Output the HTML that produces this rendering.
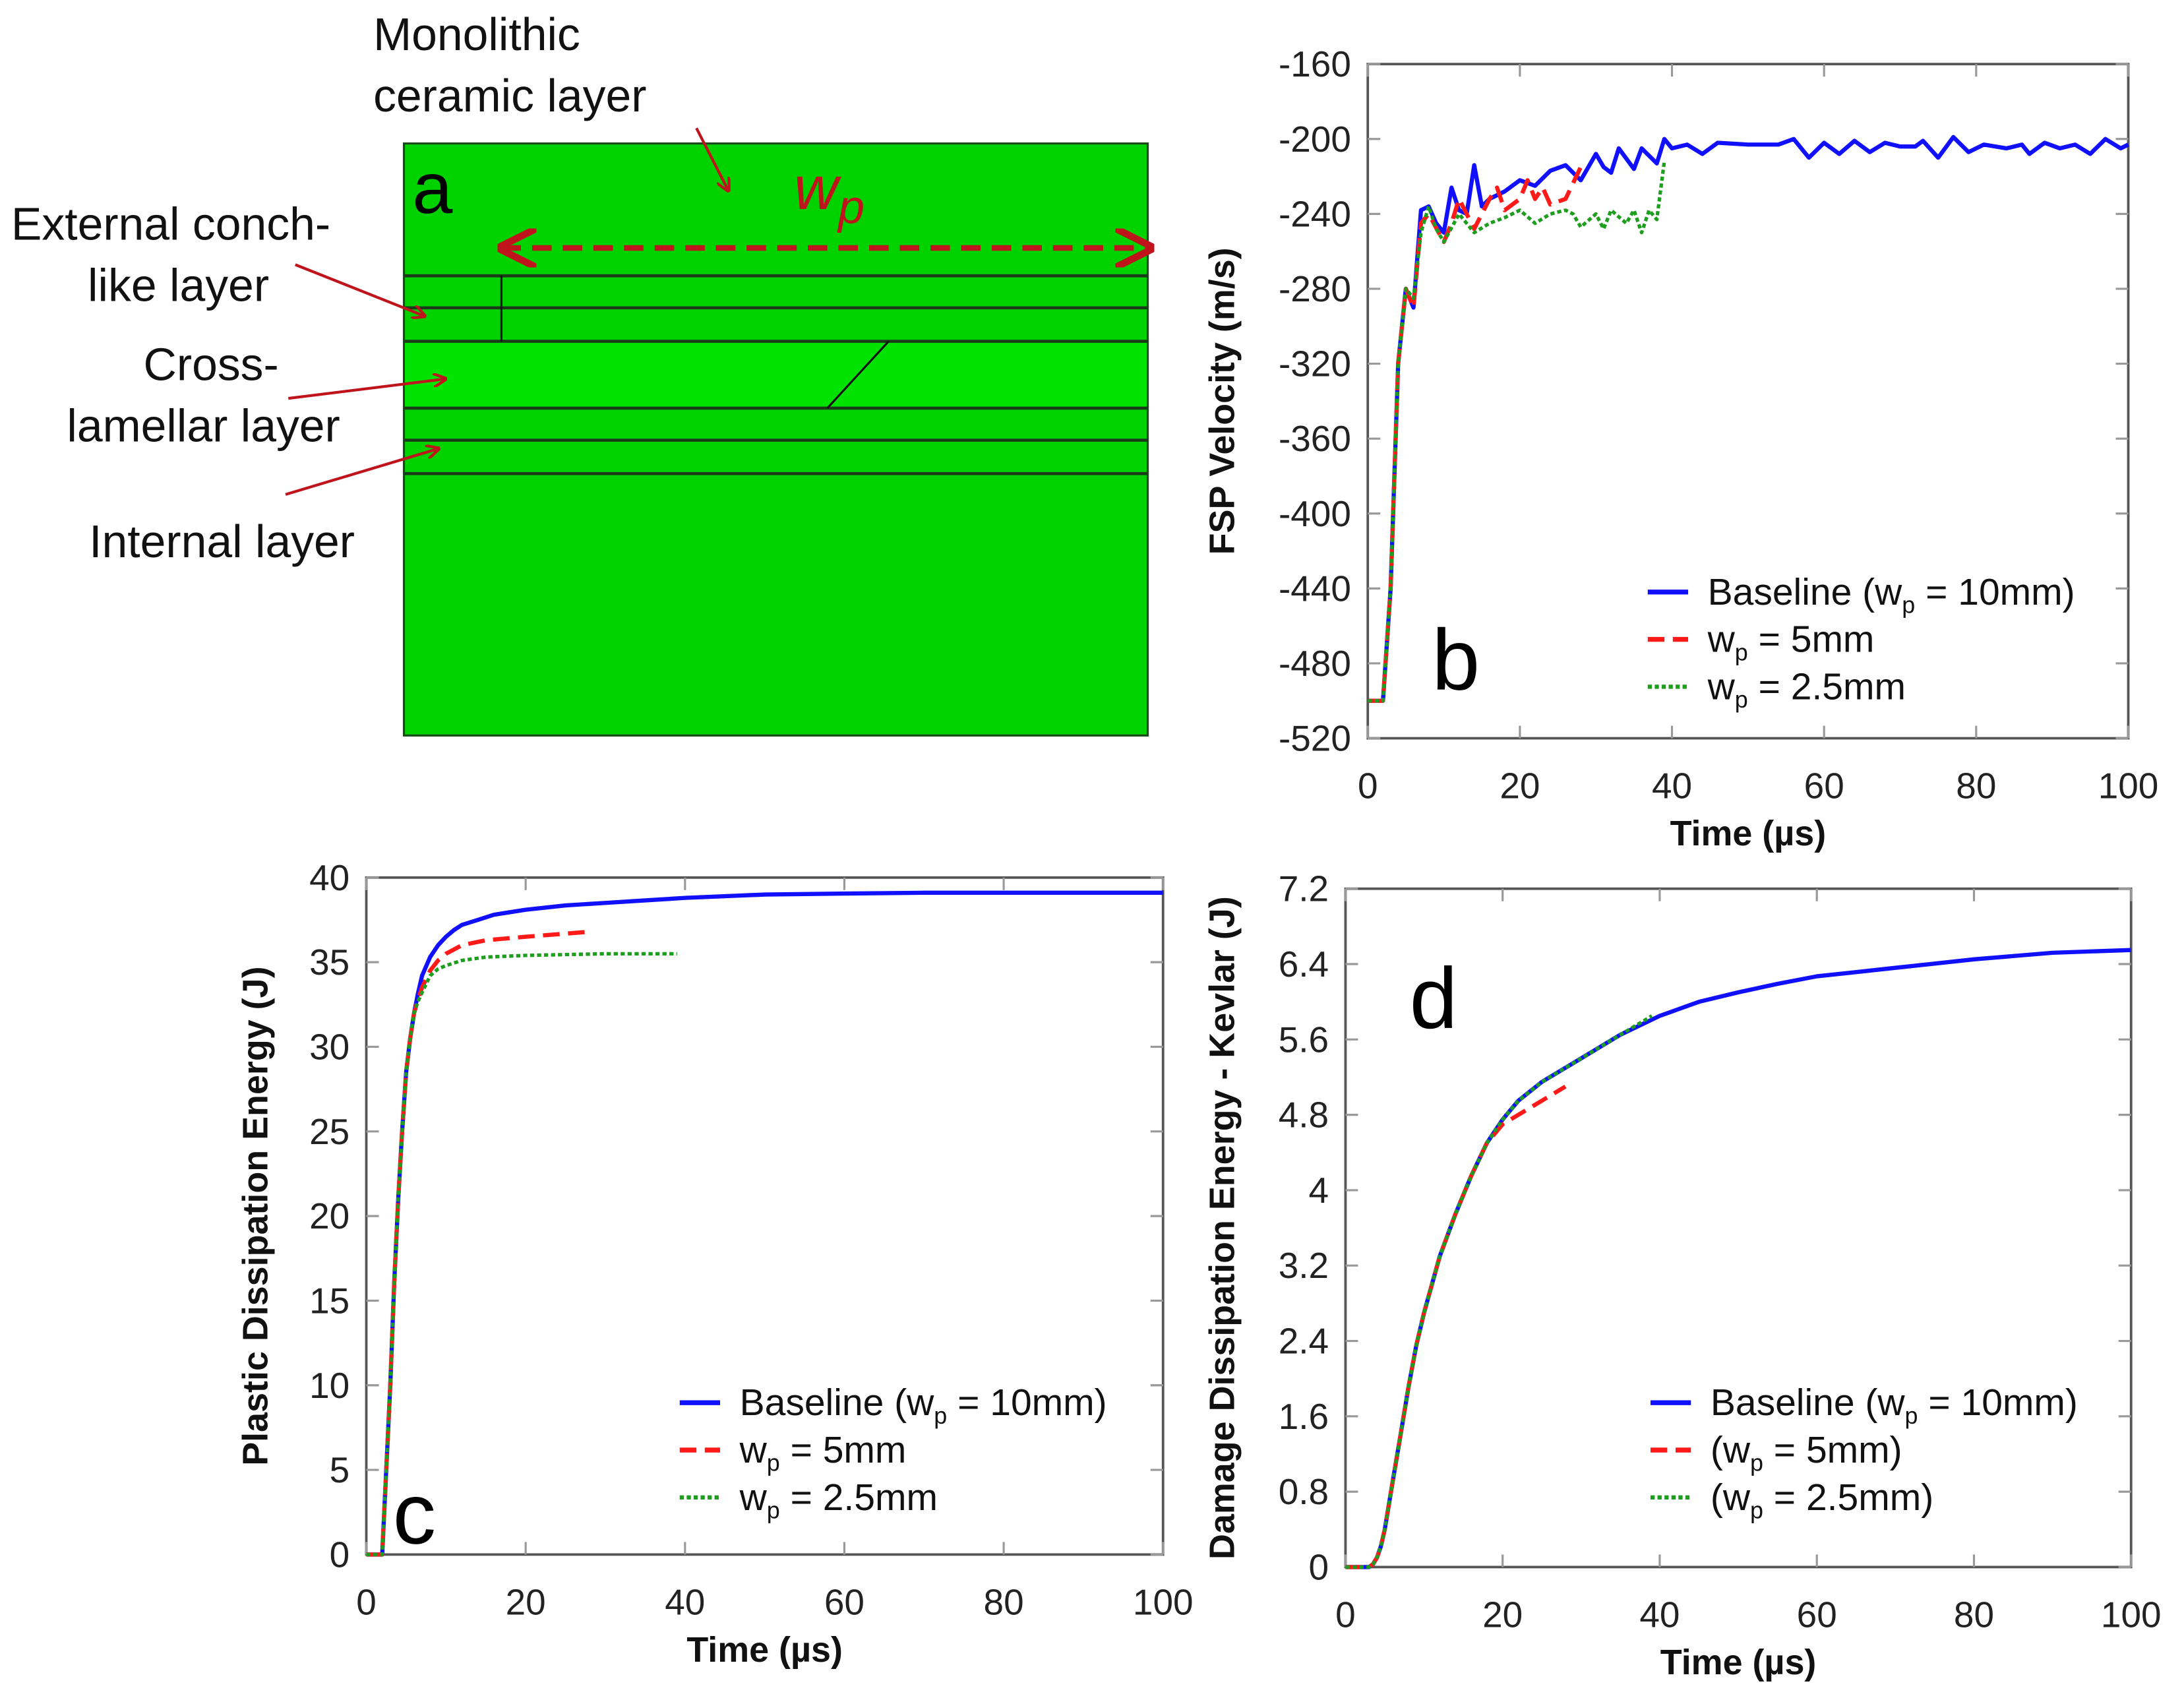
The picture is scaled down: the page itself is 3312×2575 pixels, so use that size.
<!DOCTYPE html>
<html><head><meta charset="utf-8"><style>
html,body{margin:0;padding:0;background:#fff}
svg{display:block}
text{font-family:"Liberation Sans",Arial,sans-serif}
.n{font-family:"Liberation Sans Narrow","Liberation Sans",sans-serif}
.tk{font-size:26px;fill:#222}
.tt{font-size:25.5px;font-weight:bold;fill:#111}
.lg{font-size:27px;fill:#111}
</style></head><body>
<svg id="fig" width="3312" height="2575" viewBox="0 0 1568 1219" preserveAspectRatio="none" xmlns="http://www.w3.org/2000/svg">
<defs>
<marker id="ah" viewBox="0 0 10 10" refX="9" refY="5" markerWidth="7" markerHeight="7" orient="auto-start-reverse"><path d="M0,0 L10,5 L0,10" fill="none" stroke="#c0141c" stroke-width="1.8"/></marker>
<marker id="ah2" viewBox="0 0 10 10" refX="9" refY="5" markerWidth="5" markerHeight="5" orient="auto-start-reverse"><path d="M0,0 L10,5 L0,10" fill="none" stroke="#c0141c" stroke-width="2"/></marker>
</defs>
<g>
<rect x="290" y="103" width="534" height="425" fill="#00d200" stroke="#1a4a1a" stroke-width="1.5"/>
<rect x="290.7" y="246" width="532.6" height="46" fill="#00e200"/>
<g stroke="#1a3a1a" stroke-width="2.2">
<line x1="290" y1="198" x2="824" y2="198"/><line x1="290" y1="221" x2="824" y2="221"/><line x1="290" y1="245" x2="824" y2="245"/>
<line x1="290" y1="293" x2="824" y2="293"/><line x1="290" y1="316" x2="824" y2="316"/><line x1="290" y1="340" x2="824" y2="340"/>
</g>
<line x1="360" y1="198" x2="360" y2="245" stroke="#111" stroke-width="1.5"/>
<line x1="638" y1="245" x2="594" y2="293" stroke="#111" stroke-width="1.5"/>
<text class="n" x="268" y="36" font-size="33" fill="#111">Monolithic</text>
<text class="n" x="268" y="80" font-size="33" fill="#111">ceramic layer</text>
<text class="n" x="8" y="172" font-size="33" fill="#111">External  conch-</text>
<text class="n" x="63" y="216" font-size="33" fill="#111">like layer</text>
<text class="n" x="103" y="273" font-size="33" fill="#111">Cross-</text>
<text class="n" x="48" y="317" font-size="33" fill="#111">lamellar  layer</text>
<text class="n" x="64" y="400" font-size="33" fill="#111">Internal  layer</text>
<text x="296" y="153" font-size="52" fill="#000">a</text>
<text x="570" y="150" font-size="44" font-style="italic" font-family="Liberation Serif,serif" fill="#c0141c">w<tspan font-size="34" dy="10">p</tspan></text>
<line x1="360" y1="178" x2="826" y2="178" stroke="#c0141c" stroke-width="4" stroke-dasharray="14,8" marker-start="url(#ah)" marker-end="url(#ah)"/>
<g stroke="#c0141c" stroke-width="2" fill="none">
<line x1="500" y1="92" x2="523" y2="137" marker-end="url(#ah2)"/>
<line x1="212" y1="190" x2="305" y2="227" marker-end="url(#ah2)"/>
<line x1="207" y1="286" x2="320" y2="272" marker-end="url(#ah2)"/>
<line x1="205" y1="355" x2="315" y2="322" marker-end="url(#ah2)"/>
</g>
</g>
<g id="pb"></g>
<g id="pc"></g>
<g id="pd"></g>
</svg>
<script>
// Panel b data
const bTicksY = [-160,-200,-240,-280,-320,-360,-400,-440,-480,-520];
const xTicks = [0,20,40,60,80,100];
const bBaseT = [0,2,3,4,5,6,7,8,9,10,11,12,13,14,15,16,18,20,22,24,26,27,28,30,31,32,33,35,36,38,39,40,42,44,46,50,54,56,58,60,62,64,66,68,70,72,73,75,77,79,81,84,86,87,89,91,93,95,97,99,100];
const bBaseV = [-500,-500,-440,-320,-280,-290,-238,-236,-245,-250,-226,-238,-240,-214,-236,-232,-228,-222,-225,-217,-214,-218,-222,-208,-215,-218,-205,-216,-205,-213,-200,-205,-203,-208,-202,-203,-203,-200,-210,-202,-208,-201,-207,-202,-204,-204,-201,-210,-199,-207,-203,-205,-203,-208,-202,-205,-203,-208,-200,-205,-203];
const b5T = [0,2,3,4,5,6,7,8,10,11,12,14,16,17,18,20,21,22,23,24,26,28];
const b5V = [-500,-500,-440,-320,-280,-290,-245,-240,-255,-245,-232,-248,-232,-226,-238,-232,-222,-232,-226,-235,-232,-215];
const b25T = [0,2,3,4,5,6,7,8,9,10,12,14,16,18,20,22,24,26,27,28,30,31,32,34,35,36,37,38,39];
const b25V = [-500,-500,-440,-320,-280,-285,-250,-236,-248,-255,-240,-250,-245,-242,-238,-245,-240,-238,-240,-247,-240,-248,-238,-245,-238,-250,-238,-243,-212];
// Panel c data
const cTicksY = [0,5,10,15,20,25,30,35,40];
const cBaseT = [0,2,2.5,3,3.5,4,4.5,5,5.5,6,6.5,7,8,9,10,11,12,14,16,20,25,30,35,40,50,60,70,100];
const cBaseV = [0,0,5,10,16,21,25,28.5,30.5,32,33.2,34.2,35.3,36,36.5,36.9,37.2,37.5,37.8,38.1,38.35,38.5,38.65,38.8,39,39.05,39.1,39.1];
const c5T = [0,2,2.5,3,3.5,4,4.5,5,5.5,6,6.5,7,8,9,10,12,15,20,28];
const c5V = [0,0,5,10,16,21,25,28.5,30.5,32,32.8,33.5,34.5,35.1,35.5,36,36.3,36.5,36.8];
const c25T = [0,2,2.5,3,3.5,4,4.5,5,5.5,6,6.5,7,8,9,10,12,15,20,30,39];
const c25V = [0,0,5,10,16,21,25,28.5,30.5,32,32.7,33.2,34.2,34.6,34.8,35.1,35.3,35.4,35.5,35.5];
// Panel d data
const dTicksY = [0,0.8,1.6,2.4,3.2,4,4.8,5.6,6.4,7.2];
const dTickLabels = ["0","0.8","1.6","2.4","3.2","4","4.8","5.6","6.4","7.2"];
const dBaseT = [0,3,3.5,4,4.5,5,6,7,8,9,10,12,14,16,18,20,22,25,30,35,40,45,50,55,60,70,80,90,100];
const dBaseV = [0,0,0.03,0.1,0.22,0.4,0.9,1.4,1.9,2.35,2.7,3.3,3.75,4.15,4.5,4.75,4.95,5.15,5.4,5.65,5.85,6,6.1,6.19,6.27,6.36,6.45,6.52,6.55];
const d5T = [0,3,3.5,4,4.5,5,6,7,8,9,10,12,14,16,18,20,25,28];
const d5V = [0,0,0.03,0.1,0.22,0.4,0.9,1.4,1.9,2.35,2.7,3.3,3.75,4.15,4.5,4.7,4.95,5.1];
const d25T = [0,3,3.5,4,4.5,5,6,7,8,9,10,12,14,16,18,20,22,25,30,35,39];
const d25V = [0,0,0.03,0.1,0.22,0.4,0.9,1.4,1.9,2.35,2.7,3.3,3.75,4.15,4.5,4.75,4.95,5.15,5.4,5.65,5.85];

const NS="http://www.w3.org/2000/svg";
function mk(parent,tag,attrs,txt){const e=document.createElementNS(NS,tag);for(const k in attrs)e.setAttribute(k,attrs[k]);if(txt!==undefined)e.textContent=txt;parent.appendChild(e);return e;}

function chart(g,o){
  const sx=v=>o.L+(v-o.x0)/(o.x1-o.x0)*(o.R-o.L);
  const sy=v=>o.B-(v-o.y0)/(o.y1-o.y0)*(o.B-o.T);
  const frame=mk(g,'rect',{x:o.L,y:o.T,width:o.R-o.L,height:o.B-o.T,fill:'none',stroke:'#555','stroke-width':1.8});
  
  
  o.xt.forEach(v=>{
    const x=sx(v);
    mk(g,'line',{x1:x,y1:o.B,x2:x,y2:o.B-9,stroke:'#999','stroke-width':1.5});
    mk(g,'line',{x1:x,y1:o.T,x2:x,y2:o.T+9,stroke:'#999','stroke-width':1.5});
    const t=mk(g,'text',{x:x,y:o.B+43,'text-anchor':'middle',class:'tk'},String(v));
    
    
  });
  o.yt.forEach((v,i)=>{
    const y=sy(v);
    mk(g,'line',{x1:o.L,y1:y,x2:o.L+9,y2:y,stroke:'#999','stroke-width':1.5});
    mk(g,'line',{x1:o.R,y1:y,x2:o.R-9,y2:y,stroke:'#999','stroke-width':1.5});
    const t=mk(g,'text',{x:o.L-12,y:y+9,'text-anchor':'end',class:'tk'},o.yl?o.yl[i]:String(v));
    
    
  });
  const xt=mk(g,'text',{x:(o.L+o.R)/2,y:o.B+77,'text-anchor':'middle',class:'tt'},'Time (µs)');
  
  
  const yx=o.yTitleX, yc=(o.T+o.B)/2;
  const yt=mk(g,'text',{x:yx,y:yc,'text-anchor':'middle',class:'tt',transform:`rotate(-90 ${yx} ${yc})`},o.ytitle);
  
  
  o.series.forEach(s=>{
    const d=s.t.map((t,i)=>(i?'L':'M')+sx(t).toFixed(1)+','+sy(s.v[i]).toFixed(1)).join(' ');
    const p=mk(g,'path',{d:d,fill:'none',stroke:s.c,'stroke-width':s.w,'stroke-dasharray':s.da,'stroke-linejoin':'round'});
    
    
  });
  o.series.forEach((s,i)=>{
    const y=o.legY+i*34;
    const l=mk(g,'line',{x1:o.legX,y1:y,x2:o.legX+29,y2:y,stroke:s.c,'stroke-width':s.w+0.5,'stroke-dasharray':s.da});
    
    
    const t=mk(g,'text',{x:o.legX+43,y:y+9,class:'lg'});
    
    
    const parts=s.label;
    mk(t,'tspan',{},parts[0]);
    mk(t,'tspan',{'font-size':17,dy:6},'p');
    mk(t,'tspan',{dy:-6},parts[1]);
  });
  const pl=mk(g,'text',{x:o.pl[0],y:o.pl[1],'font-size':62,fill:'#000'},o.pl[2]);
  
  
}
const col={b:'#1010ff',r:'#ff1a1a',g:'#1e9e1e'};
chart(document.getElementById('pb'),{L:982,R:1528,T:46,B:530,x0:0,x1:100,y0:-520,y1:-160,xt:xTicks,yt:bTicksY,
 ytitle:'FSP Velocity (m/s)',yTitleX:886,legX:1183,legY:425,pl:[1028,495,'b'],
 series:[{t:bBaseT,v:bBaseV,c:col.b,w:3,da:'none',name:'series-baseline',label:['Baseline (w',' = 10mm)']},
 {t:b5T,v:b5V,c:col.r,w:3,da:'12,6',name:'series-wp-5mm',label:['w',' = 5mm']},
 {t:b25T,v:b25V,c:col.g,w:2.5,da:'3,2',name:'series-wp-2.5mm',label:['w',' = 2.5mm']}]});
chart(document.getElementById('pc'),{L:263,R:835,T:630,B:1116,x0:0,x1:100,y0:0,y1:40,xt:xTicks,yt:cTicksY,
 ytitle:'Plastic Dissipation Energy (J)',yTitleX:192,legX:488,legY:1007,pl:[282,1108,'c'],
 series:[{t:cBaseT,v:cBaseV,c:col.b,w:3,da:'none',name:'series-baseline',label:['Baseline (w',' = 10mm)']},
 {t:c5T,v:c5V,c:col.r,w:3,da:'12,6',name:'series-wp-5mm',label:['w',' = 5mm']},
 {t:c25T,v:c25V,c:col.g,w:2.5,da:'3,2',name:'series-wp-2.5mm',label:['w',' = 2.5mm']}]});
chart(document.getElementById('pd'),{L:966,R:1530,T:638,B:1125,x0:0,x1:100,y0:0,y1:7.2,xt:xTicks,yt:dTicksY,yl:dTickLabels,
 ytitle:'Damage Dissipation Energy - Kevlar (J)',yTitleX:886,legX:1185,legY:1007,pl:[1012,738,'d'],
 series:[{t:dBaseT,v:dBaseV,c:col.b,w:3,da:'none',name:'series-baseline',label:['Baseline (w',' = 10mm)']},
 {t:d5T,v:d5V,c:col.r,w:3,da:'12,6',name:'series-wp-5mm',label:['(w',' = 5mm)']},
 {t:d25T,v:d25V,c:col.g,w:2.5,da:'3,2',name:'series-wp-2.5mm',label:['(w',' = 2.5mm)']}]});
</script>
</body></html>
